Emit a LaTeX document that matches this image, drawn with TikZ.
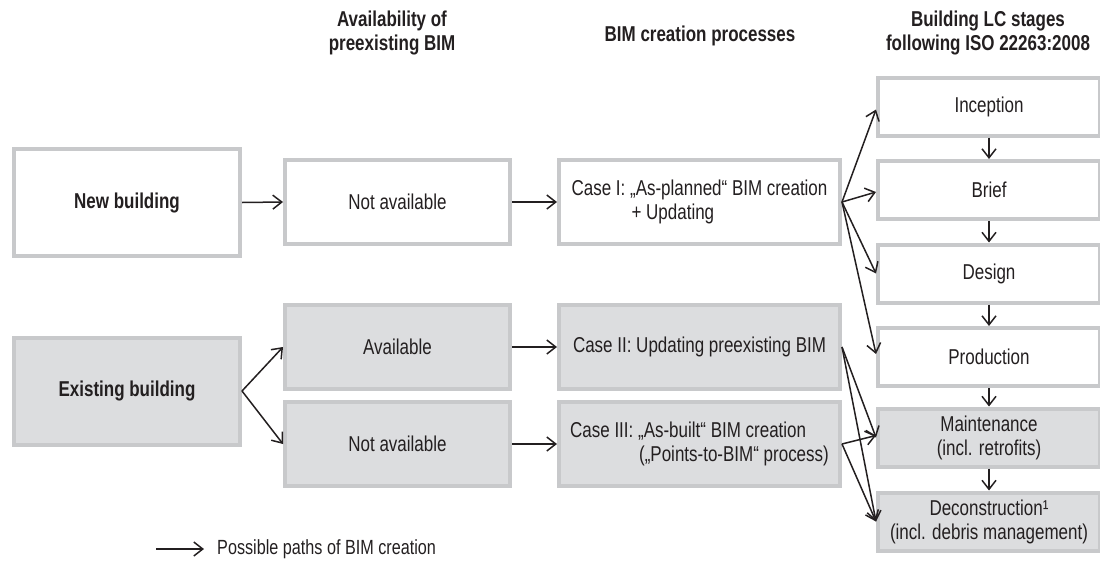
\documentclass[tikz,border=0pt]{standalone}
\usepackage{fontspec}
\setmainfont{Liberation Sans}[FakeStretch=0.79]
\usetikzlibrary{arrows.meta,calc}

\definecolor{ink}{HTML}{231F20}
\definecolor{boxline}{HTML}{C8C9CB}
\definecolor{boxfill}{HTML}{DCDDDF}

\begin{document}
\begin{tikzpicture}[x=1pt,y=-1pt,
  every node/.style={text=ink},
  box/.style={draw=boxline, line width=4pt, fill=white, inner sep=0pt,
    align=center, font=\fontsize{21.5}{24}\selectfont},
  shaded/.style={box, fill=boxfill},
  leftbox/.style={minimum width=226pt, minimum height=107pt},
  midbox/.style={minimum width=225pt, minimum height=84pt},
  casebox/.style={minimum width=281pt, minimum height=84pt, align=left},
  stagebox/.style={minimum width=222pt, minimum height=58pt},
  head/.style={align=center, font=\fontsize{21.5}{23.5}\selectfont\bfseries},
  link/.style={draw=ink, line width=1.5pt,
    -{Straight Barb[length=9pt,width=14pt,line width=1.5pt]}}
]
\useasboundingbox (0,0) rectangle (1100,563);

% column headings
\node[head] (h1) at (392,33) {Availability of\\preexisting BIM};
\node[head] (h2) at (700,36) {BIM creation processes};
\node[head] (h3) at (988,33) {Building LC stages\\following ISO 22263:2008};

% building type
\node[box, leftbox, font=\fontsize{21.5}{24}\selectfont\bfseries] (nb) at (127,202.5) {New building};
\node[shaded, leftbox, font=\fontsize{21.5}{24}\selectfont\bfseries] (eb) at (127,391) {Existing building};

% availability of a preexisting model
\node[box, midbox] (na1) at (397.5,202) {Not available};
\node[shaded, midbox] (av) at (397.5,347) {Available};
\node[shaded, midbox] (na2) at (397.5,444) {Not available};

% creation processes
\node[box, casebox] (c1) at (699.5,202)
  {Case I: „As-planned“ BIM creation\\\hspace*{60pt}+ Updating};
\node[shaded, casebox, align=center] (c2) at (699.5,347)
  {Case II: Updating preexisting BIM};
\node[shaded, casebox] (c3) at (699.5,444)
  {Case III: „As-built“ BIM creation\\\hspace*{69pt}(„Points-to-BIM“ process)};

% life cycle stages
\node[box, stagebox] (s1) at (989,106.5) {Inception};
\node[box, stagebox] (s2) at (989,190) {Brief};
\node[box, stagebox] (s3) at (989,273.5) {Design};
\node[box, stagebox] (s4) at (989,357) {Production};
\node[shaded, stagebox] (s5) at (989,437.5) {Maintenance\\(incl. retrofits)};
\node[shaded, stagebox] (s6) at (989,521.5) {Deconstruction¹\\(incl. debris management)};

% paths
\draw[link] (nb.east) -- (na1.west);
\draw[link] (na1.east) -- (c1.west);
\draw[link] (eb.east) -- (av.west);
\draw[link] (eb.east) -- (na2.west);
\draw[link] (av.east) -- (c2.west);
\draw[link] (na2.east) -- (c3.west);

\draw[link] (c1.east) -- ($(s1.west)+(0,3)$);
\draw[link] (c1.east) -- ($(s2.west)+(0,2)$);
\draw[link] (c1.east) -- (s3.west);
\draw[link] (c1.east) -- ($(s4.west)+(0,-3)$);

\draw[link] (c2.east) -- (s5.west);
\draw[link] (c2.east) -- (s6.west);
\draw[link] (c3.east) -- ($(s5.west)+(0,-2)$);
\draw[link] (c3.east) -- (s6.west);

\draw[link] (s1.south) -- (s2.north);
\draw[link] (s2.south) -- (s3.north);
\draw[link] (s3.south) -- (s4.north);
\draw[link] (s4.south) -- (s5.north);
\draw[link] (s5.south) -- (s6.north);

% legend
\coordinate (lgA) at (156,549);
\coordinate (lgB) at (204,549);
\draw[link] (lgA) -- (lgB);
\node[anchor=west, inner sep=0pt, font=\fontsize{20.5}{24}\selectfont] (lgtext) at (217,549)
  {Possible paths of BIM creation};
\end{tikzpicture}
\end{document}
